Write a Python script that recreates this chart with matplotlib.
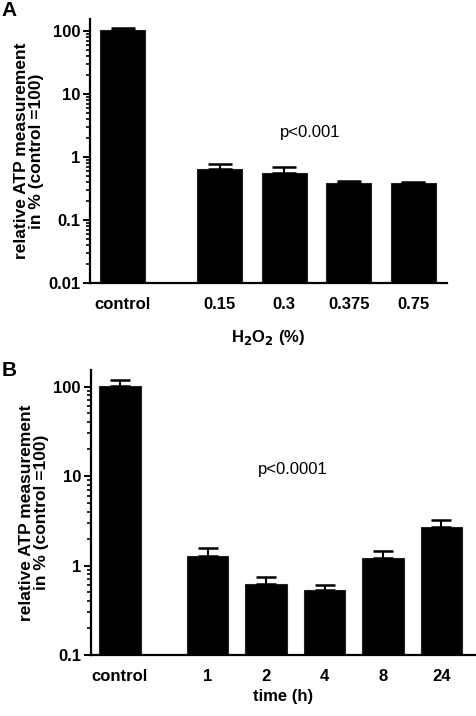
import matplotlib
matplotlib.use("Agg")
import matplotlib.pyplot as plt
from matplotlib.ticker import LogLocator, FuncFormatter, NullFormatter

plt.rcParams['font.family'] = ['Liberation Sans', 'DejaVu Sans']

# Panel A data
cat_a = ["control", "0.15", "0.3", "0.375", "0.75"]
pos_a = [0, 1.5, 2.5, 3.5, 4.5]
val_a = [105, 0.65, 0.565, 0.39, 0.385]
err_a = [8, 0.12, 0.115, 0.03, 0.01]

# Panel B data
cat_b = ["control", "1", "2", "4", "8", "24"]
pos_b = [0, 1.5, 2.5, 3.5, 4.5, 5.5]
val_b = [102, 1.28, 0.62, 0.535, 1.2, 2.66]
err_b = [15, 0.28, 0.12, 0.065, 0.27, 0.58]

fig = plt.figure(figsize=(4.76, 7.16), dpi=100)

ylabel = "relative ATP measurement\nin % (control =100)"
fmt = FuncFormatter(lambda v, p: "%g" % v)
FS = 12


def style(ax, lo, hi):
    ax.set_yscale("log")
    ax.set_ylim(lo, hi)
    ax.yaxis.set_major_locator(LogLocator(base=10, numticks=10))
    ax.yaxis.set_minor_locator(LogLocator(base=10, subs=range(2, 10), numticks=20))
    ax.yaxis.set_major_formatter(fmt)
    ax.yaxis.set_minor_formatter(NullFormatter())
    for s in ["top", "right"]:
        ax.spines[s].set_visible(False)
    for s in ["left", "bottom"]:
        ax.spines[s].set_linewidth(1.6)
    ax.tick_params(axis="y", which="major", direction="out", length=5, width=1.4,
                   labelsize=FS, pad=2)
    ax.tick_params(axis="y", which="minor", direction="out", length=3, width=1.2)
    ax.tick_params(axis="x", which="both", length=0, labelsize=FS, pad=10)
    for lab in ax.get_xticklabels() + ax.get_yticklabels():
        lab.set_fontweight("bold")
    ax.set_ylabel(ylabel, fontsize=12.5, fontweight="bold", labelpad=3, linespacing=1.0)


# Panel A
axA = fig.add_axes([0.189, 0.605, 0.75, 0.368])
axA.bar(pos_a, val_a, width=0.7, color="black", edgecolor="#222222", linewidth=0.8)
axA.errorbar(pos_a, val_a, yerr=[[0] * len(val_a), err_a], fmt="none",
             ecolor="black", elinewidth=1.5, capsize=8.5, capthick=1.8)
axA.set_xlim(-0.51, 5.02)
axA.set_xticks(pos_a)
axA.set_xticklabels(cat_a)
style(axA, 0.01, 153)
axA.set_xlabel("H$_\\mathbf{2}$O$_\\mathbf{2}$ (%)", fontsize=FS, fontweight="bold", labelpad=12)
axA.text(2.9, 2.46, "p<0.001", ha="center", va="center", fontsize=FS)
fig.text(0.003, 0.998, "A", fontsize=15, fontweight="bold", ha="left", va="top")

# Panel B
axB = fig.add_axes([0.1905, 0.0852, 0.807, 0.398])
axB.bar(pos_b, val_b, width=0.71, color="black", edgecolor="#222222", linewidth=0.8)
axB.errorbar(pos_b, val_b, yerr=[[0] * len(val_b), err_b], fmt="none",
             ecolor="black", elinewidth=1.5, capsize=7.5, capthick=1.8)
axB.set_xlim(-0.5, 6.07)
axB.set_xticks(pos_b)
axB.set_xticklabels(cat_b)
style(axB, 0.1, 153)
axB.set_xlabel("time (h)", fontsize=FS, fontweight="bold", labelpad=4)
axB.text(2.96, 11.7, "p<0.0001", ha="center", va="center", fontsize=FS)
fig.text(0.003, 0.496, "B", fontsize=15, fontweight="bold", ha="left", va="top")

fig.savefig("out.png", dpi=100)
